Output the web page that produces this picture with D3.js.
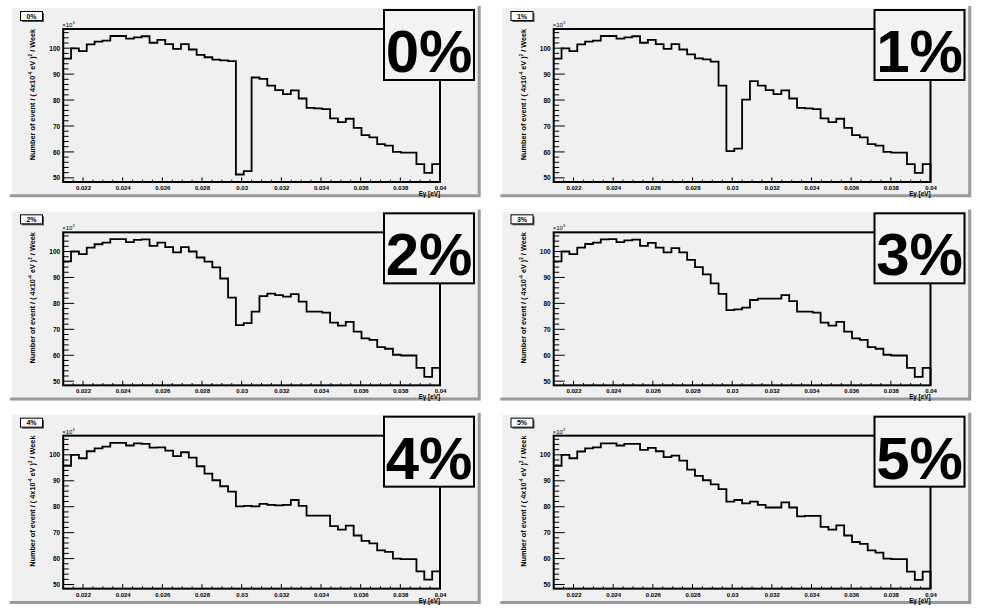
<!DOCTYPE html>
<html><head><meta charset="utf-8">
<script src="https://cdn.jsdelivr.net/npm/d3@7"></script>
<style>html,body{margin:0;padding:0;background:#fff;}svg{display:block;font-family:"Liberation Sans",Arial,sans-serif;}</style>
</head><body>
<svg id="c" width="981" height="610"></svg>
<script>
// ---- data ----
const binLo = 0.021, binHi = 0.04, nBins = 48;
const panelLabels = ["0%", "1%", "2%", "3%", "4%", "5%"];
const xTicks = [0.022, 0.024, 0.026, 0.028, 0.03, 0.032, 0.034, 0.036, 0.038, 0.04];
const xTickLabels = ["0.022","0.024","0.026","0.028","0.03","0.032","0.034","0.036","0.038","0.04"];
const yTicks = [50, 60, 70, 80, 90, 100];
const yTickLabels = ["50","60","70","80","90","100"];
const yDomain = [48.4, 107.4];
const xTitle = "E\u03b3 [eV]";

const h0 = [96.0, 99.9, 98.9, 101.5, 102.5, 102.9, 104.7, 104.7, 103.7, 104.2, 104.6,
  102.1, 103.2, 101.6, 99.7, 101.6, 99.5, 97.4, 96.5, 95.6, 95.3,
  95.0, 51.3, 52.6, 88.7, 88.2, 85.6, 83.8, 82.3, 83.7, 80.6,
  77.0, 76.8, 76.5, 72.9, 71.5, 72.8, 69.3, 66.5, 65.6, 63.0,
  62.4, 60.0, 59.7, 59.7, 55.3, 51.9, 55.3];
const h1 = [96.0, 99.9, 98.9, 101.5, 102.5, 102.9, 104.7, 104.7, 103.7, 104.2, 104.6,
  102.1, 103.2, 101.6, 99.7, 101.6, 99.5, 97.6, 96.1, 95.7, 94.8,
  85.6, 60.3, 61.3, 80.2, 87.3, 85.6, 83.8, 82.3, 83.7, 80.6,
  77.0, 76.8, 76.5, 72.9, 71.5, 72.8, 69.3, 66.5, 65.6, 63.0,
  62.4, 60.0, 59.7, 59.7, 55.3, 51.9, 55.3];
const h2 = [96.2, 100, 99, 101.5, 102.8, 103.4, 104.8, 104.8, 103.6, 104.5, 104.7,
  102.2, 103.4, 101.7, 99.7, 101.7, 100, 97.7, 96.1, 93.9, 89.6,
  82.2, 71.6, 72.4, 76.8, 82.8, 83.8, 83.2, 82.6, 83.6, 80.7,
  76.8, 76.8, 76.4, 72.6, 71.4, 72.9, 69.1, 66.5, 65.9, 63.1,
  62.5, 60.2, 59.9, 59.9, 55.1, 51.7, 55.1];
const h3 = [96.2, 100, 99, 101.5, 102.9, 103.4, 104.7, 104.8, 103.6, 104.3, 104.6,
  102.2, 103.3, 101.5, 99.7, 101.3, 99.7, 96.8, 94, 91.2, 87.7,
  83.7, 77.4, 77.7, 78.4, 81.3, 81.8, 81.8, 81.8, 83.2, 80.9,
  76.8, 76.8, 76.4, 72.6, 71.4, 72.9, 69.1, 66.5, 65.9, 63.1,
  62.5, 60.2, 59.9, 59.9, 55.1, 51.7, 55.1];
const h4 = [95.8, 100, 98.7, 101.4, 102.5, 103.2, 104.6, 104.6, 103.6, 104.4, 104.2,
  102.8, 102.9, 101.6, 99.5, 101, 98.9, 95.6, 92.8, 90.2, 87.9,
  85.8, 80.1, 80.3, 80.1, 81.1, 80.7, 80.5, 80.7, 82.6, 80.3,
  76.6, 76.6, 76.6, 72.5, 71.2, 72.7, 68.9, 66.8, 65.9, 63.2,
  62.6, 60, 59.8, 59.8, 55.1, 51.9, 55.1];
const h5 = [95.8, 100, 98.7, 101.3, 102.5, 102.9, 104.4, 104.4, 103.6, 104.2, 104.2,
  101.9, 102.7, 101.4, 99.1, 99.7, 97.8, 94.3, 91.9, 90.2, 88.6,
  86.8, 82, 82.6, 81.3, 82, 80.7, 79.7, 79.7, 81.7, 79.7,
  76.3, 76.5, 76.5, 72.2, 71.2, 72.8, 68.9, 66.4, 65.7, 63.2,
  62.3, 60, 59.8, 59.8, 55, 51.8, 55];
const series = [h0, h1, h2, h3, h4, h5];

// ---- layout ----
const W = 981, H = 610, cols = 2, rows = 3;
const pw = W / cols, ph = H / rows;
const frame = {l: 63.2, r: 440, t: 29, b: 182};
const svg = d3.select("#c");

const x = d3.scaleLinear().domain([binLo, binHi]).range([frame.l, frame.r]);
const y = d3.scaleLinear().domain(yDomain).range([frame.b, frame.t]);

series.forEach((vals, i) => {
  const col = i % 2, row = Math.floor(i / 2);
  const g = svg.append("g").attr("transform", `translate(${col * pw},${row * ph})`);
  // pad
  const px0 = 9.8, px1 = pw - 9.8, py0 = 6.1, py1 = ph - 6.1;
  g.append("rect").attr("x", px0).attr("y", py0).attr("width", px1 - px0).attr("height", py1 - py0)
    .attr("fill", "#f0f0f0");
  // bevel
  g.append("path").attr("d", `M${px0+1},${py1} V${py0+1} H${px1}`).attr("fill", "none")
    .attr("stroke", "#ffffff").attr("stroke-width", 2);
  g.append("path").attr("d", `M${px0},${py1-1.5} H${px1-1.5} V${py0}`).attr("fill", "none")
    .attr("stroke", "#9a9a9a").attr("stroke-width", 3);

  // histogram
  const bw = (binHi - binLo) / nBins;
  let d = "";
  vals.forEach((v, k) => {
    const x0 = x(binLo + k * bw), x1 = x(binLo + (k + 1) * bw);
    d += (k === 0 ? `M${x0},${y(v)}` : `V${y(v)}`) + `H${x1}`;
  });
  d += `V${y(yDomain[0])}`;
  g.append("path").attr("d", d).attr("fill", "none").attr("stroke", "#000").attr("stroke-width", 1.8);

  // frame
  g.append("rect").attr("x", frame.l).attr("y", frame.t).attr("width", frame.r - frame.l)
    .attr("height", frame.b - frame.t).attr("fill", "none").attr("stroke", "#000").attr("stroke-width", 2);

  // x axis
  const xMinor = d3.range(0, 39).map(j => 0.021 + j * 0.0005).filter(v => v <= 0.04 + 1e-9);
  const xa = d3.axisBottom(x).tickValues(xTicks).tickSize(0).tickFormat((v, j) => xTickLabels[j]);
  const xg = g.append("g").attr("transform", `translate(0,${frame.b})`).call(xa);
  xg.select(".domain").remove();
  xg.selectAll("text").attr("dy", 0).attr("y", 8).attr("font-size", "6px").attr("font-weight", "bold")
    .attr("font-family", "Liberation Sans, Arial, sans-serif").attr("fill", "#000");
  g.selectAll(".xminor").data(xMinor).enter().append("line")
    .attr("x1", v => x(v)).attr("x2", v => x(v))
    .attr("y1", frame.b).attr("y2", v => frame.b - (Math.abs(Math.round(v * 500) - v * 500) < 1e-6 ? 4.6 : 2.3))
    .attr("stroke", "#000").attr("stroke-width", 1);

  // y axis
  const ya = d3.axisLeft(y).tickValues(yTicks).tickSize(0).tickFormat((v, j) => yTickLabels[j]);
  const yg = g.append("g").attr("transform", `translate(${frame.l},0)`).call(ya);
  yg.select(".domain").remove();
  yg.selectAll("text").attr("x", -3).attr("font-size", "6.5px").attr("font-weight", "bold")
    .attr("font-family", "Liberation Sans, Arial, sans-serif").attr("fill", "#000");
  const yMinor = d3.range(50, 107, 2);
  g.selectAll(".yminor").data(yMinor).enter().append("line")
    .attr("x1", frame.l).attr("x2", v => frame.l + (v % 10 === 0 ? 11 : 5.5))
    .attr("y1", v => y(v)).attr("y2", v => y(v))
    .attr("stroke", "#000").attr("stroke-width", 1);

  // x10^3
  const ex = g.append("text").attr("x", frame.l - 1).attr("y", frame.t - 2)
    .attr("font-size", "6px").attr("fill", "#000");
  ex.append("tspan").text("\u00d710");
  ex.append("tspan").attr("dy", -3).attr("font-size", "4px").text("3");

  // y title
  const yt = g.append("text").attr("transform", `translate(35,${(frame.t + frame.b) / 2 - 11}) rotate(-90)`)
    .attr("text-anchor", "middle").attr("font-size", "7.3px").attr("font-weight", "bold").attr("fill", "#000");
  yt.append("tspan").text("Number of event / ( 4x10");
  yt.append("tspan").attr("dy", -2.7).attr("font-size", "4.5px").text("-4");
  yt.append("tspan").attr("dy", 2.7).text(" eV )");
  yt.append("tspan").attr("dy", -2.7).attr("font-size", "4.5px").text("2");
  yt.append("tspan").attr("dy", 2.7).text(" / Week");

  // x title
  g.append("text").attr("x", frame.r).attr("y", frame.b + 14).attr("text-anchor", "end")
    .attr("font-size", "6.3px").attr("font-weight", "bold").attr("fill", "#000").text(xTitle);

  // small title box
  g.append("rect").attr("x", 22).attr("y", 13).attr("width", 22).attr("height", 9).attr("fill", "#555");
  g.append("rect").attr("x", 20.5).attr("y", 11.5).attr("width", 22).attr("height", 9)
    .attr("fill", "#fff").attr("stroke", "#000").attr("stroke-width", 1);
  g.append("text").attr("x", 31.5).attr("y", 18.8).attr("text-anchor", "middle")
    .attr("font-size", "7px").attr("font-weight", "bold").text(panelLabels[i]);

  // big label box
  g.append("rect").attr("x", 384).attr("y", 10).attr("width", 90).attr("height", 70)
    .attr("fill", "#f3f3f3").attr("stroke", "#000").attr("stroke-width", 2);
  g.append("text").attr("x", 429).attr("y", 72).attr("text-anchor", "middle")
    .attr("font-size", "60px").attr("font-weight", "bold").attr("fill", "#000").text(panelLabels[i]);
});
</script>
</body></html>
